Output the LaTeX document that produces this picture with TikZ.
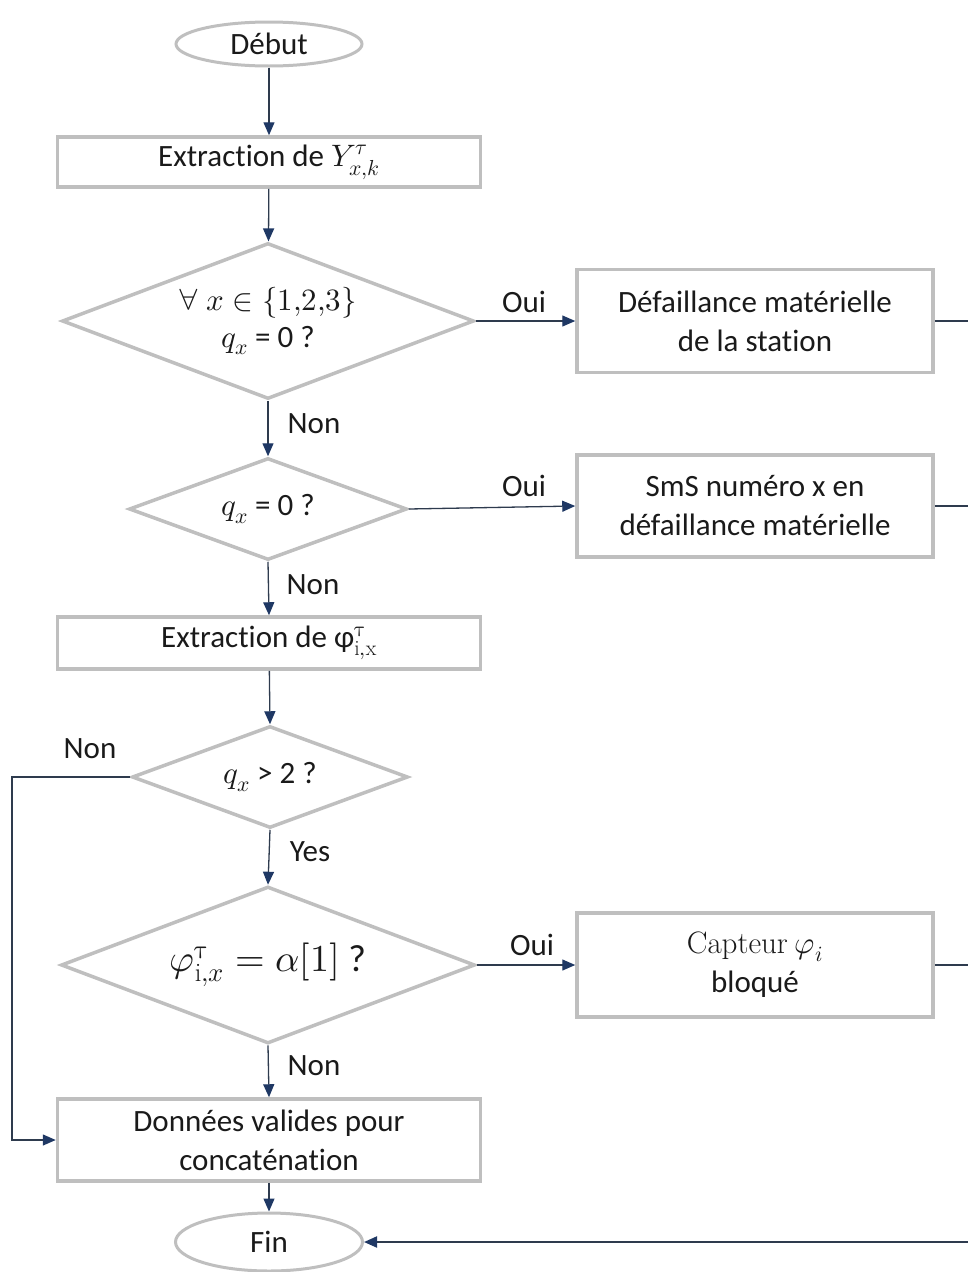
\documentclass[tikz,border=0pt]{standalone}
\usepackage{amsmath}
\usepackage{unicode-math}
\setmainfont{Carlito}[Ligatures=NoCommon]
\setmathfont{Latin Modern Math}
\setmathrm{Latin Modern Roman}
\usetikzlibrary{shapes.geometric,arrows.meta}
\definecolor{navy}{HTML}{1F3864}
\definecolor{lineC}{HTML}{2E3B4E}
\definecolor{bord}{HTML}{BFBFBF}
\definecolor{txt}{HTML}{1A1A1A}
\tikzset{
  base/.style={draw=bord, line width=3.5pt, fill=white, text=txt, font=\fontsize{31}{39}\selectfont, align=center},
  procbox/.style={base, rectangle, inner sep=0pt},
  termin/.style={base, ellipse, inner sep=0pt, line width=3pt},
  decis/.style={base, diamond, inner sep=0pt},
  arr/.style={draw=lineC, line width=1.3pt, -{Triangle[length=13pt,width=11pt,fill=navy,color=navy]}},
  plain/.style={draw=lineC, line width=1.3pt},
  lbl/.style={text=txt, font=\fontsize{31}{39}\selectfont, inner sep=0pt}
}
\begin{document}
\begin{tikzpicture}[x=1pt,y=-1pt]
\useasboundingbox (0,0) rectangle (968,1272);
% nodes
\node[termin, minimum width=186pt, minimum height=44pt] (deb) at (269,44) {Début};
\node[procbox, minimum width=423pt, minimum height=50pt] (ext1) at (269,162) {Extraction de $Y^{\tau}_{x,k}$};
\node[decis, aspect=2.64, minimum width=412pt, minimum height=156pt] (d1) at (268,321) {$\forall\ x \in \{1{,}2{,}3\}$\\[-2pt]$q_x$ = 0 ?};
\node[procbox, minimum width=356pt, minimum height=103pt] (dms) at (755,321) {Défaillance matérielle\\de la station};
\node[decis, aspect=2.72, minimum width=278pt, minimum height=102pt] (d2) at (268,509) {$q_x$ = 0 ?};
\node[procbox, minimum width=356pt, minimum height=102pt] (sms) at (755,506) {SmS numéro x en\\défaillance matérielle};
\node[procbox, minimum width=423pt, minimum height=52pt] (ext2) at (269,643) {Extraction de φ$^{\symup{\tau}}_{\mathrm{i,x}}$};
\node[decis, aspect=2.7, minimum width=276pt, minimum height=102pt] (d3) at (270,777) {$q_x$ > 2 ?};
\node[decis, aspect=2.64, minimum width=414pt, minimum height=157pt, font=\fontsize{38}{46}\selectfont] (d4) at (268,965) {$\varphi^{\symup{\tau}}_{\mathrm{i},x} = \alpha[1]$ ?};
\node[procbox, minimum width=356pt, minimum height=104pt] (cap) at (755,965) {$\mathrm{Capteur}\ \varphi_i$\\bloqué};
\node[procbox, minimum width=423pt, minimum height=82pt] (don) at (269,1140) {Données valides pour\\concaténation};
\node[termin, minimum width=187pt, minimum height=58pt] (fin) at (269,1242) {Fin};
% free ends
\coordinate (r1) at (968,321);
\coordinate (r2) at (968,506);
\coordinate (r3) at (968,965);
\coordinate (r4) at (968,1242);
\coordinate (l1) at (12,777);
% labels
\node[lbl] (o1) at (524,302) {Oui};
\node[lbl] (n1) at (314,424) {Non};
\node[lbl] (o2) at (524,486) {Oui};
\node[lbl] (n2) at (313,585) {Non};
\node[lbl] (n3) at (90,749) {Non};
\node[lbl] (y1) at (310,852) {Yes};
\node[lbl] (o3) at (532,945) {Oui};
\node[lbl] (n4) at (314,1066) {Non};
% connectors
\draw[arr] (deb) -- (ext1);
\draw[arr] (ext1) -- (d1);
\draw[arr] (d1.east) -- (dms.west);
\draw[arr] (d1.south) -- (d2.north);
\draw[arr] (d2.east) -- (sms.west);
\draw[arr] (d2.south) -- (ext2.north);
\draw[arr] (ext2) -- (d3.north);
\draw[arr] (d3.south) -- (d4.north);
\draw[arr] (d3.west) -- (l1) |- (don.west);
\draw[arr] (d4.east) -- (cap.west);
\draw[arr] (d4.south) -- (don.north);
\draw[arr] (don) -- (fin);
\draw[plain] (dms.east) -- (r1);
\draw[plain] (sms.east) -- (r2);
\draw[plain] (cap.east) -- (r3);
\draw[arr, line width=2pt] (r4) -- (fin.east);
\end{tikzpicture}
\end{document}
